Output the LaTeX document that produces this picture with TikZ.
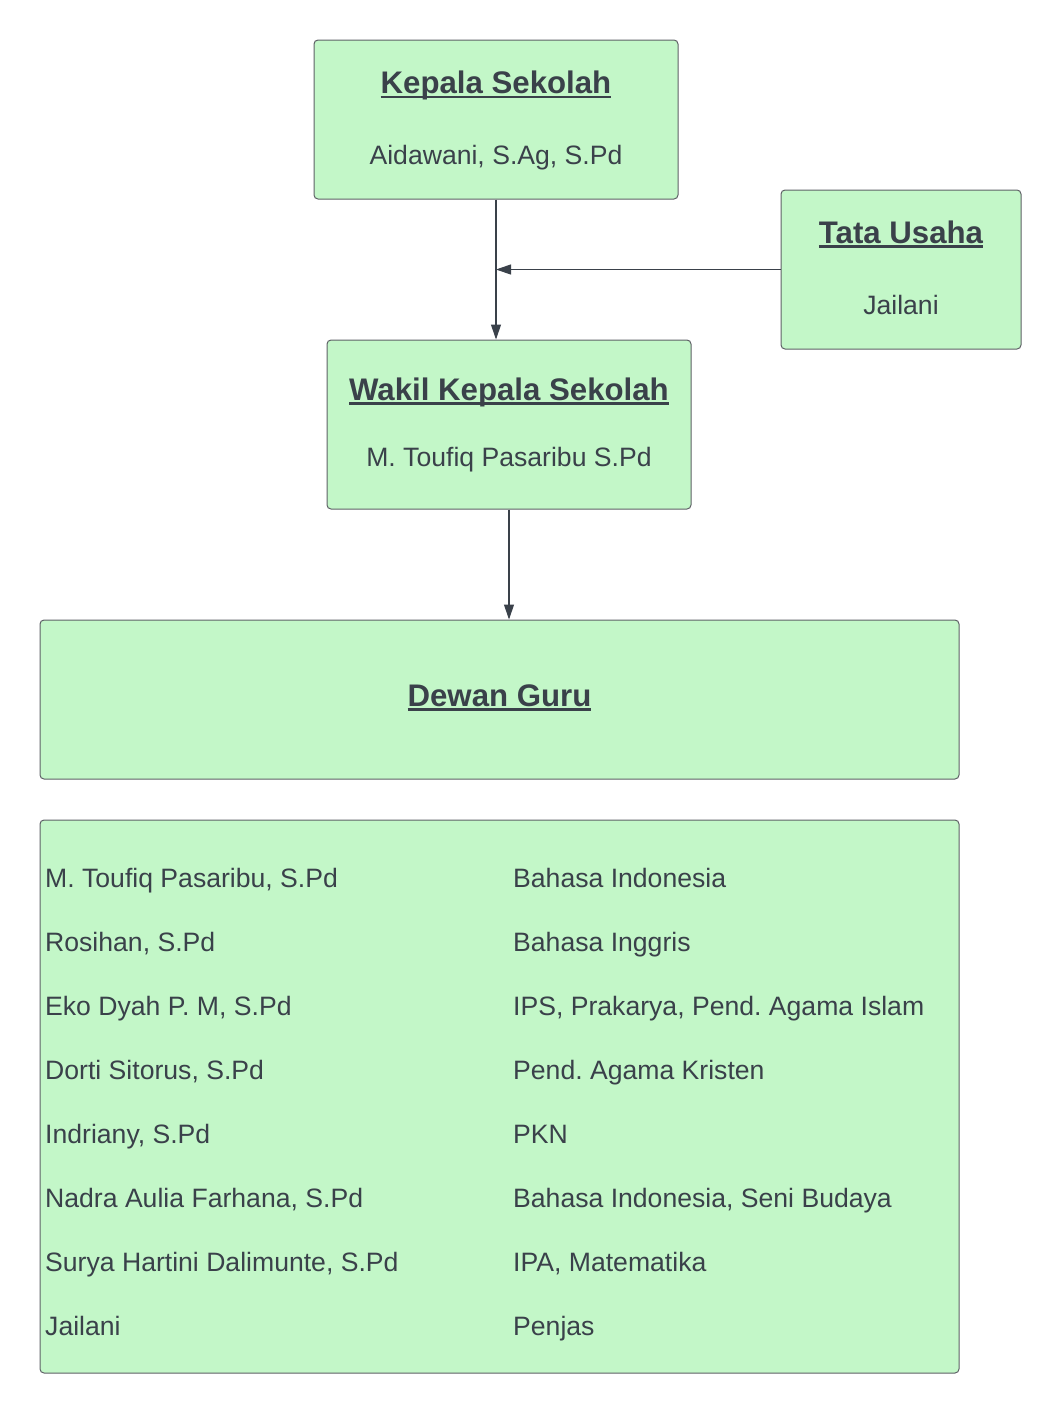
\documentclass[tikz,border=0pt]{standalone}
\usepackage{fontspec}
\setmainfont{Liberation Sans}
\usetikzlibrary{arrows.meta,positioning,calc}
\frenchspacing

\definecolor{boxgreen}{HTML}{C3F7C8}
\definecolor{inkgray}{HTML}{3A414A}
\definecolor{edgegray}{HTML}{5E6166}

\newsavebox{\titlebox}
\newcommand{\ultitle}[1]{\sbox{\titlebox}{#1}\rlap{\rule[-4.6pt]{\wd\titlebox}{2.3pt}}\usebox{\titlebox}}

\tikzset{
    orgbox/.style={draw=edgegray, fill=boxgreen, rounded corners=4pt, line width=1pt, inner sep=0pt},
    headtext/.style={font=\fontsize{31.2}{36}\selectfont\bfseries, text=inkgray, anchor=base, inner sep=0pt},
    nametext/.style={font=\fontsize{26.6}{32}\selectfont, text=inkgray, anchor=base, inner sep=0pt},
    rowtext/.style={nametext, anchor=base west},
    link/.style={draw=inkgray, line width=1.1pt, -{Triangle[length=15pt,width=10pt]}}
}

\begin{document}
\begin{tikzpicture}[x=1pt, y=-1pt]
    \fill[white] (0,0) rectangle (1061,1414);
    \useasboundingbox (0,0) rectangle (1061,1414);

    % boxes
    \node[orgbox, minimum width=364pt, minimum height=159pt] (kepala) at (496,119.5) {};
    \node[orgbox, minimum width=240pt, minimum height=159pt] (tata) at (901,269.5) {};
    \node[orgbox, minimum width=364pt, minimum height=169pt] (wakil) at (509,424.5) {};
    \node[orgbox, minimum width=919pt, minimum height=159pt] (dewan) at (499.5,699.5) {};
    \node[orgbox, minimum width=919pt, minimum height=553pt] (daftar) at (499.5,1096.5) {};

    % titles and names
    \node[headtext] (kepalaT) at (496,93.5) {\ultitle{Kepala Sekolah}};
    \node[nametext] (kepalaN) at (496,164.5) {Aidawani, S.Ag, S.Pd};
    \node[headtext] (tataT) at (901,243) {\ultitle{Tata Usaha}};
    \node[nametext] (tataN) at (901,314.5) {Jailani};
    \node[headtext] (wakilT) at (509,400) {\ultitle{Wakil Kepala Sekolah}};
    \node[nametext] (wakilN) at (509,466) {M. Toufiq Pasaribu S.Pd};
    \node[headtext] (dewanT) at (499.5,706) {\ultitle{Dewan Guru}};

    % teachers and subjects
    \foreach \guru/\mapel [count=\i from 0] in {
        {M. Toufiq Pasaribu, S.Pd}/{Bahasa Indonesia},
        {Rosihan, S.Pd}/{Bahasa Inggris},
        {Eko Dyah P. M, S.Pd}/{IPS, Prakarya, Pend. Agama Islam},
        {Dorti Sitorus, S.Pd}/{Pend. Agama Kristen},
        {Indriany, S.Pd}/{PKN},
        {Nadra Aulia Farhana, S.Pd}/{Bahasa Indonesia, Seni Budaya},
        {Surya Hartini Dalimunte, S.Pd}/{IPA, Matematika},
        {Jailani}/{Penjas}} {
        \node[rowtext] (guru\i) at (45,{887.5+64*\i}) {\guru};
        \node[rowtext] (mapel\i) at (513,{887.5+64*\i}) {\mapel};
    }

    % connectors
    \draw[link] (kepala.south) -- (kepala.south |- wakil.north);
    \draw[link] (tata.west) -- (kepala.south |- tata.west);
    \draw[link] (wakil.south) -- (wakil.south |- dewan.north);
\end{tikzpicture}
\end{document}
